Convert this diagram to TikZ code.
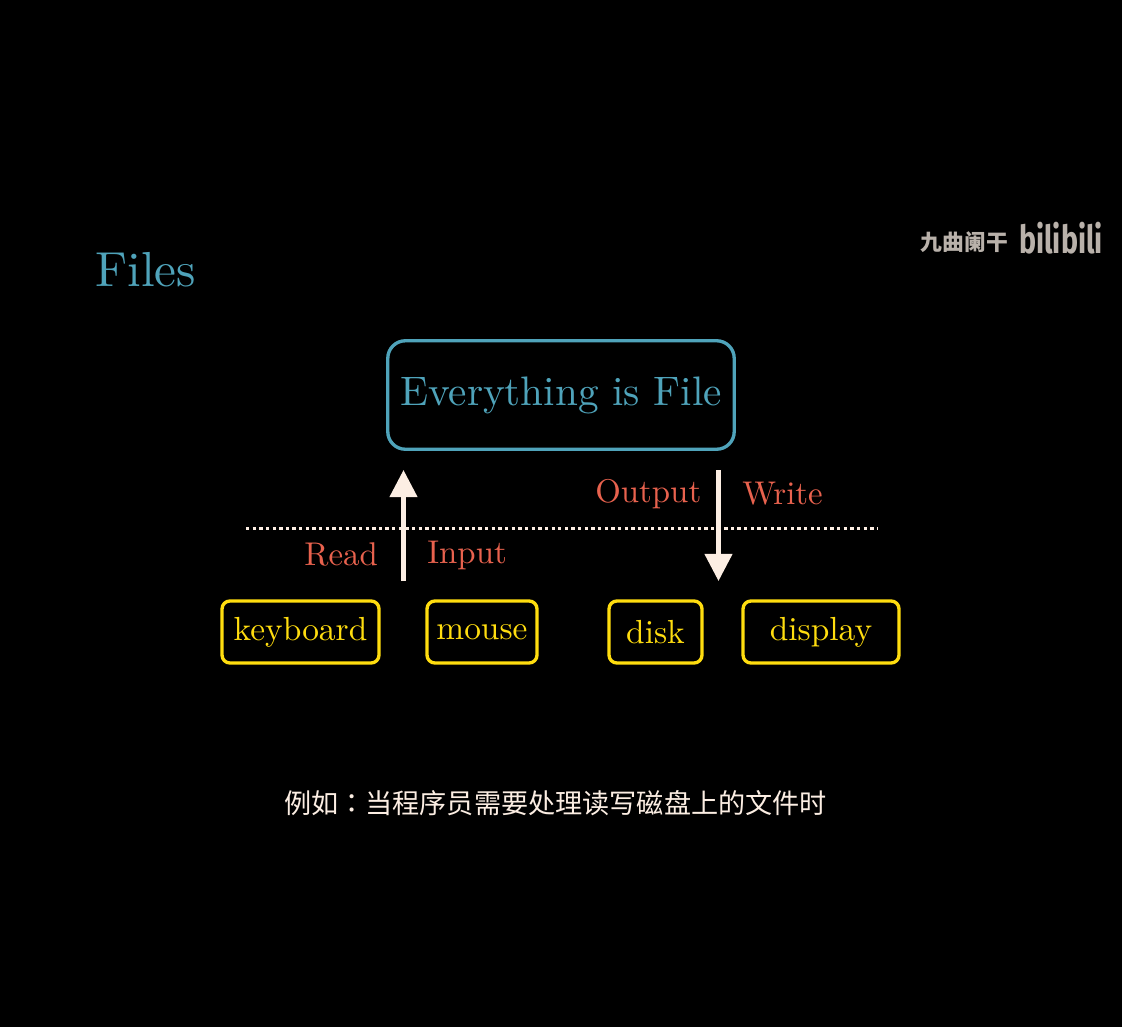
\documentclass[tikz,border=0pt]{standalone}
\usepackage{fontspec}
\usepackage{xcolor}
\usetikzlibrary{arrows.meta}
\usetikzlibrary{positioning}
\setmainfont{lmroman10-regular}[Extension=.otf]
\newfontfamily\cjkfont{Noto Sans CJK SC}
\newfontfamily\colonfont{Noto Sans CJK TC}
\newfontfamily\logofont{Fira Sans}
\definecolor{fileblue}{HTML}{4FA3BA}
\definecolor{deviceyellow}{HTML}{FFDD0F}
\definecolor{verbred}{HTML}{E8624E}
\definecolor{cream}{HTML}{FCEEE3}
\definecolor{markgray}{HTML}{B9B1AA}
\tikzset{
  devicebox/.style={draw=deviceyellow, text=deviceyellow, line width=1.9pt, rounded corners=4.5pt,
    minimum height=1.24cm, inner sep=0pt, font=\fontsize{19}{19}\selectfont},
  verblabel/.style={text=verbred, anchor=base west, inner sep=0pt, font=\fontsize{18.7}{18.7}\selectfont},
  bigarrow/.style={draw=cream, line width=2.4pt, -{Triangle[length=15.5pt,width=15.5pt]}},
}

\begin{document}
\begin{tikzpicture}[x=0.02cm, y=-0.02cm]
    \fill[black] (0,0) rectangle (1122,1027);
    \useasboundingbox (0,0) rectangle (1122,1027);

    \node[text=fileblue, anchor=base west, inner sep=0pt, font=\fontsize{28}{28}\selectfont] (title) at (95,286) {Files};

    % watermark
    \node[text=markgray, inner sep=0pt, font=\cjkfont\bfseries\fontsize{12.4}{12.4}\selectfont] (owner) at (964.5,242) {九曲阑干};
    \node[text=markgray, inner sep=0pt, font=\logofont\bfseries\fontsize{22}{22}\selectfont, xscale=0.74] (logo) at (1061,238) {bilibili};

    % top box
    \node[draw=fileblue, text=fileblue, line width=1.9pt, rounded corners=10pt, minimum width=6.93cm, minimum height=2.17cm,
      inner sep=0pt, font=\fontsize{23.45}{23.45}\selectfont] (everything) at (561,395) {Everything is File};

    % devices
    \node[devicebox, minimum width=3.14cm] (keyboard) at (300.5,632) {keyboard};
    \node[devicebox, minimum width=2.20cm] (mouse) at (482,632) {mouse};
    \node[devicebox, minimum width=1.86cm] (disk) at (655.5,632) {disk};
    \node[devicebox, minimum width=3.12cm] (display) at (821,632) {display};

    % dotted line
    \coordinate (lineleft) at (246,528.5);
    \coordinate (lineright) at (878,528.5);
    \draw[cream, line width=1.9pt, dash pattern=on 1.9pt off 1.88pt] (lineleft) -- (lineright);

    % arrows
    \coordinate (readstart) at (403.5,581);
    \coordinate (readend) at (403.5,470);
    \coordinate (writestart) at (718.5,470);
    \coordinate (writeend) at (718.5,581);
    \draw[bigarrow] (readstart) -- (readend);
    \draw[bigarrow] (writestart) -- (writeend);

    \node[verblabel] (read) at (304,565) {Read};
    \node[verblabel] (input) at (427,563) {Input};
    \node[verblabel] (output) at (595,502) {Output};
    \node[verblabel] (write) at (742,504) {Write};

    \node[text=cream, inner sep=0pt, font=\cjkfont\fontsize{15.45}{15.45}\selectfont] (caption) at (555.5,803) {例如{\colonfont ：}当程序员需要处理读写磁盘上的文件时};
\end{tikzpicture}
\end{document}
